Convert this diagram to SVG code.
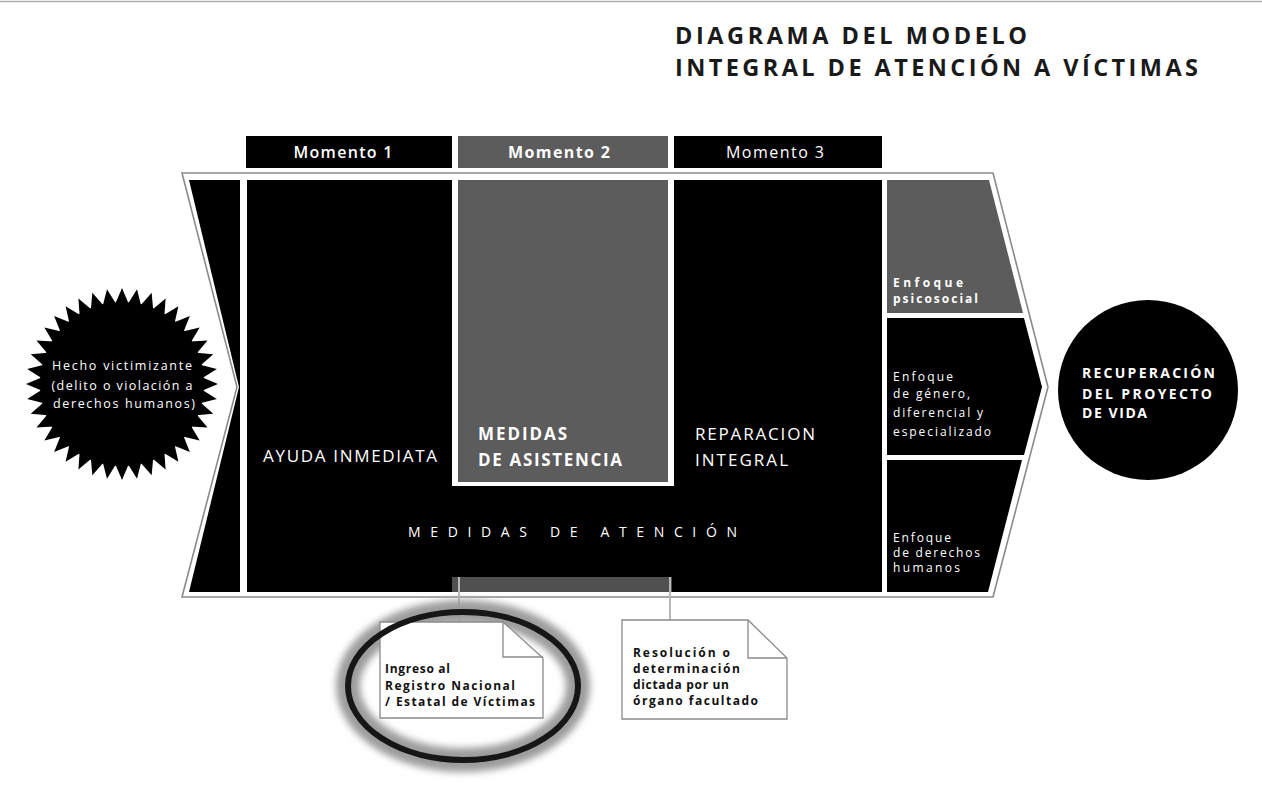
<svg xmlns="http://www.w3.org/2000/svg" xmlns:xlink="http://www.w3.org/1999/xlink" width="1262" height="790" viewBox="0 0 1262 790">
<style>
  text { font-family: "Open Sans", "Liberation Sans", sans-serif; }
  .w { fill: #ffffff; }
  .b { font-weight: 700; }
  .title { fill: #1a1a1a; font-size: 23.5px; font-weight: 700; }
  .mom { font-size: 16px; fill: #ffffff; }
  .big { font-size: 17px; fill: #ffffff; }
  .small { font-size: 12px; fill: #ffffff; }
  .note { font-size: 12px; font-weight: 700; fill: #111111; }
  .gray { fill: #5c5c5c; }
  .blk { fill: #000000; }
  .notebox { fill: #ffffff; stroke: #8a8a8a; stroke-width: 1.3; }
  .fold { fill: none; stroke: #8a8a8a; stroke-width: 1.3; }
  .conn { stroke: #b8b8b8; stroke-width: 2; fill: none; }
</style>
<defs>
  <filter id="blur" x="-20%" y="-20%" width="140%" height="140%">
    <feGaussianBlur stdDeviation="3.5"/>
  </filter>
  <polygon id="t1" points="0,-96 6.8,-80 -6.8,-80"/>
  <g id="t2"><use xlink:href="#t1"/><use xlink:href="#t1" transform="rotate(9)"/></g>
  <g id="t4"><use xlink:href="#t2"/><use xlink:href="#t2" transform="rotate(18)"/></g>
  <g id="t8"><use xlink:href="#t4"/><use xlink:href="#t4" transform="rotate(36)"/></g>
</defs>

<rect x="0" y="0" width="1262" height="790" fill="#ffffff"/>
<line x1="0" y1="1.5" x2="1262" y2="1.5" stroke="#b0b0b0" stroke-width="1.5"/>

<g id="title">
  <text class="title" x="675" y="44" textLength="352">DIAGRAMA DEL MODELO</text>
  <text class="title" x="675" y="76" textLength="523">INTEGRAL DE ATENCIÓN A VÍCTIMAS</text>
</g>

<g id="momento1">
  <rect x="246" y="136" width="206" height="32" class="blk"/>
  <text class="mom" x="343" y="158" text-anchor="middle" font-weight="600" textLength="99">Momento 1</text>
</g>
<g id="momento2">
  <rect x="458" y="136" width="210" height="32" class="gray"/>
  <text class="mom b" x="559" y="158" text-anchor="middle" textLength="102">Momento 2</text>
</g>
<g id="momento3">
  <rect x="674" y="136" width="208" height="32" class="blk"/>
  <text class="mom" x="775" y="158" text-anchor="middle" textLength="98">Momento 3</text>
</g>

<g id="frame">
  <polygon points="182,173 993,173 1048,387 993,597 182,597 237,387" fill="#ffffff" stroke="#8a8a8a" stroke-width="1.6"/>
  <polygon points="189,180 240,180 240,592 189,592 239,387" class="blk"/>
  <rect x="247" y="180" width="635" height="412" class="blk"/>
  <rect x="452" y="180" width="222" height="306" fill="#ffffff"/>
  <rect x="458" y="180" width="210" height="302" class="gray"/>
  <rect x="452" y="577" width="220" height="15" fill="#505050"/>
</g>

<g id="ayuda-inmediata">
  <text class="big" x="263" y="462" textLength="174">AYUDA INMEDIATA</text>
</g>
<g id="medidas-asistencia">
  <text class="big b" x="478" y="440" font-size="16" textLength="89">MEDIDAS</text>
  <text class="big b" x="478" y="466" font-size="16" textLength="144">DE ASISTENCIA</text>
</g>
<g id="reparacion-integral">
  <text class="big" x="695" y="440" textLength="120">REPARACION</text>
  <text class="big" x="695" y="466" textLength="93">INTEGRAL</text>
</g>
<g id="medidas-atencion">
  <text class="w" x="408" y="537" font-size="14" textLength="329">MEDIDAS DE ATENCIÓN</text>
</g>

<g id="enfoque-psicosocial">
  <polygon points="887,180 989,180 1023,313 887,313" class="gray"/>
  <text class="small b" x="893" y="287" font-size="11.5" textLength="70">Enfoque</text>
  <text class="small b" x="893" y="303" font-size="11.5" textLength="85">psicosocial</text>
</g>
<g id="enfoque-genero">
  <polygon points="887,318 1024,318 1042,387 1024,455 887,455" class="blk"/>
  <text class="small" x="893" y="381" textLength="60">Enfoque</text>
  <text class="small" x="893" y="398" textLength="77">de género,</text>
  <text class="small" x="893" y="417" textLength="90">diferencial y</text>
  <text class="small" x="893" y="436" textLength="98">especializado</text>
</g>
<g id="enfoque-derechos">
  <polygon points="887,460 1022,460 988,592 887,592" class="blk"/>
  <text class="small" x="893" y="542" font-size="11" textLength="58">Enfoque</text>
  <text class="small" x="893" y="557" font-size="11" textLength="87">de derechos</text>
  <text class="small" x="893" y="572" font-size="11" textLength="67">humanos</text>
</g>

<g id="hecho-victimizante">
  <g transform="translate(122,384)" fill="#000000">
    <circle r="82"/>
    <use xlink:href="#t8"/>
    <use xlink:href="#t8" transform="rotate(72)"/>
    <use xlink:href="#t8" transform="rotate(144)"/>
    <use xlink:href="#t8" transform="rotate(216)"/>
    <use xlink:href="#t8" transform="rotate(288)"/>
  </g>
  <text class="w" x="122" y="370" font-size="12.5" text-anchor="middle" textLength="140">Hecho victimizante</text>
  <text class="w" x="122" y="390" font-size="12.5" text-anchor="middle" textLength="141">(delito o violación a</text>
  <text class="w" x="124" y="408" font-size="12.5" text-anchor="middle" textLength="142">derechos humanos)</text>
</g>

<g id="recuperacion">
  <circle cx="1148" cy="390" r="90" fill="#000000"/>
  <text class="w b" x="1082" y="378" font-size="14" textLength="133">RECUPERACIÓN</text>
  <text class="w b" x="1082" y="399" font-size="14" textLength="130">DEL PROYECTO</text>
  <text class="w b" x="1082" y="418" font-size="14" textLength="65">DE VIDA</text>
</g>

<g id="connectors">
  <line class="conn" x1="459" y1="577" x2="459" y2="622"/>
  <line class="conn" x1="670" y1="577" x2="670" y2="620"/>
</g>

<g id="nota-registro">
  <ellipse cx="463" cy="686" rx="115" ry="74" fill="none" stroke="#9c9c9c" stroke-width="24" filter="url(#blur)"/>
  <path class="notebox" d="M380,622 H503 L543,658 V718 H380 Z"/>
  <path class="fold" d="M503,622 V657 H543"/>
  <ellipse cx="463" cy="686" rx="115" ry="74" fill="none" stroke="#161616" stroke-width="6"/>
  <text class="note" x="385" y="673" textLength="65">Ingreso al</text>
  <text class="note" x="385" y="690" textLength="130">Registro Nacional</text>
  <text class="note" x="385" y="706" textLength="150">/ Estatal de Víctimas</text>
</g>

<g id="nota-resolucion">
  <path class="notebox" d="M622,620 H748 L787,658 V719 H622 Z"/>
  <path class="fold" d="M748,620 V658 H787"/>
  <text class="note" x="633" y="657" textLength="97">Resolución o</text>
  <text class="note" x="633" y="673" textLength="107">determinación</text>
  <text class="note" x="633" y="689" textLength="96">dictada por un</text>
  <text class="note" x="633" y="705" textLength="125">órgano facultado</text>
</g>
</svg>
